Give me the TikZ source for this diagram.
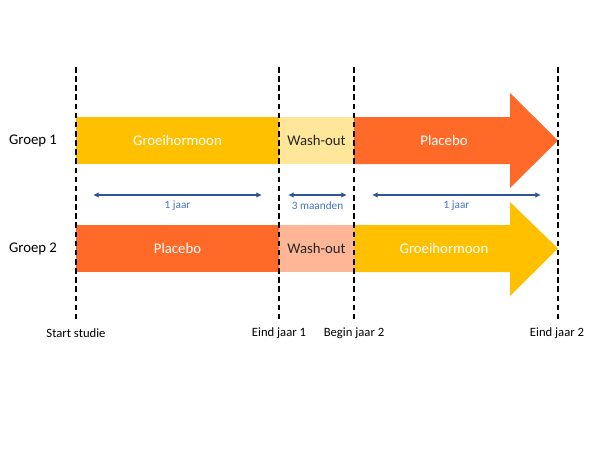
\documentclass[tikz,border=0pt]{standalone}
\usepackage{fontspec}
\setmainfont{Carlito}
\usetikzlibrary{arrows.meta}
\definecolor{geel}{HTML}{FFC000}
\definecolor{lichtgeel}{HTML}{FFE699}
\definecolor{oranje}{HTML}{FF6A28}
\definecolor{zalm}{HTML}{FFB696}
\definecolor{pijlblauw}{HTML}{2F5597}
\definecolor{tekstblauw}{HTML}{4472C4}

\begin{document}
\begin{tikzpicture}[x=0.025cm,y=-0.025cm,
    fase/.style={minimum height=1.175cm,inner sep=0pt,font=\fontsize{10.5}{12}\selectfont},
    kort/.style={fase,minimum width=1.875cm},
    lang/.style={fase,minimum width=5.075cm},
    groep/.style={font=\fontsize{10.5}{12}\selectfont},
    moment/.style={font=\fontsize{9}{11}\selectfont},
    duur/.style={font=\fontsize{8}{10}\selectfont,text=tekstblauw},
    periode/.style={pijlblauw,thick,{Latex[length=4pt,width=4pt]}-{Latex[length=4pt,width=4pt]}},
    grens/.style={line width=1.8pt,dash pattern=on 4pt off 2.5pt}]
\useasboundingbox (0,0) rectangle (600,450);

% groep 1
\node[lang,fill=geel,text=white] (g1a) at (177.5,140.5) {Groeihormoon};
\node[kort,fill=lichtgeel,text=black!85] (g1b) at (316.5,140.5) {Wash-out};
\fill[oranje] (354,117) -- (510,117) -- (510,93) -- (558,140.5) -- (510,188) -- (510,164) -- (354,164) -- cycle;
\node[fase,text=white] (g1c) at (444,140.5) {Placebo};
\node[groep] (groep1) at (33,140.5) {Groep 1};

% groep 2
\node[lang,fill=oranje,text=white] (g2a) at (177.5,248.5) {Placebo};
\node[kort,fill=zalm,text=black!85] (g2b) at (316.5,248.5) {Wash-out};
\fill[geel] (354,225) -- (510,225) -- (510,202) -- (558,248.5) -- (510,296) -- (510,272) -- (354,272) -- cycle;
\node[fase,text=white] (g2c) at (444,248.5) {Groeihormoon};
\node[groep] (groep2) at (33,248.5) {Groep 2};

% tijdsgrenzen
\foreach \x/\naam in {76/s, 279/e1, 354/b2, 558/e2} {
  \coordinate (top\naam) at (\x,67);
  \coordinate (bot\naam) at (\x,320);
  \draw[grens] (top\naam) -- (bot\naam);
}
\node[moment] (start) at (76,333) {Start studie};
\node[moment] (eind1) at (279,333) {Eind jaar 1};
\node[moment] (begin2) at (354,333) {Begin jaar 2};
\node[moment] (eind2) at (557,333) {Eind jaar 2};

% duur
\coordinate (p1l) at (93,195);  \coordinate (p1r) at (262,195);
\coordinate (p2l) at (288,195); \coordinate (p2r) at (347,195);
\coordinate (p3l) at (372,195); \coordinate (p3r) at (541,195);
\draw[periode] (p1l) -- (p1r);
\draw[periode] (p2l) -- (p2r);
\draw[periode] (p3l) -- (p3r);
\node[duur] (jaar1) at (177.5,206) {1 jaar};
\node[duur] (maanden) at (317.5,206) {3 maanden};
\node[duur] (jaar2) at (456.5,206) {1 jaar};
\end{tikzpicture}
\end{document}
